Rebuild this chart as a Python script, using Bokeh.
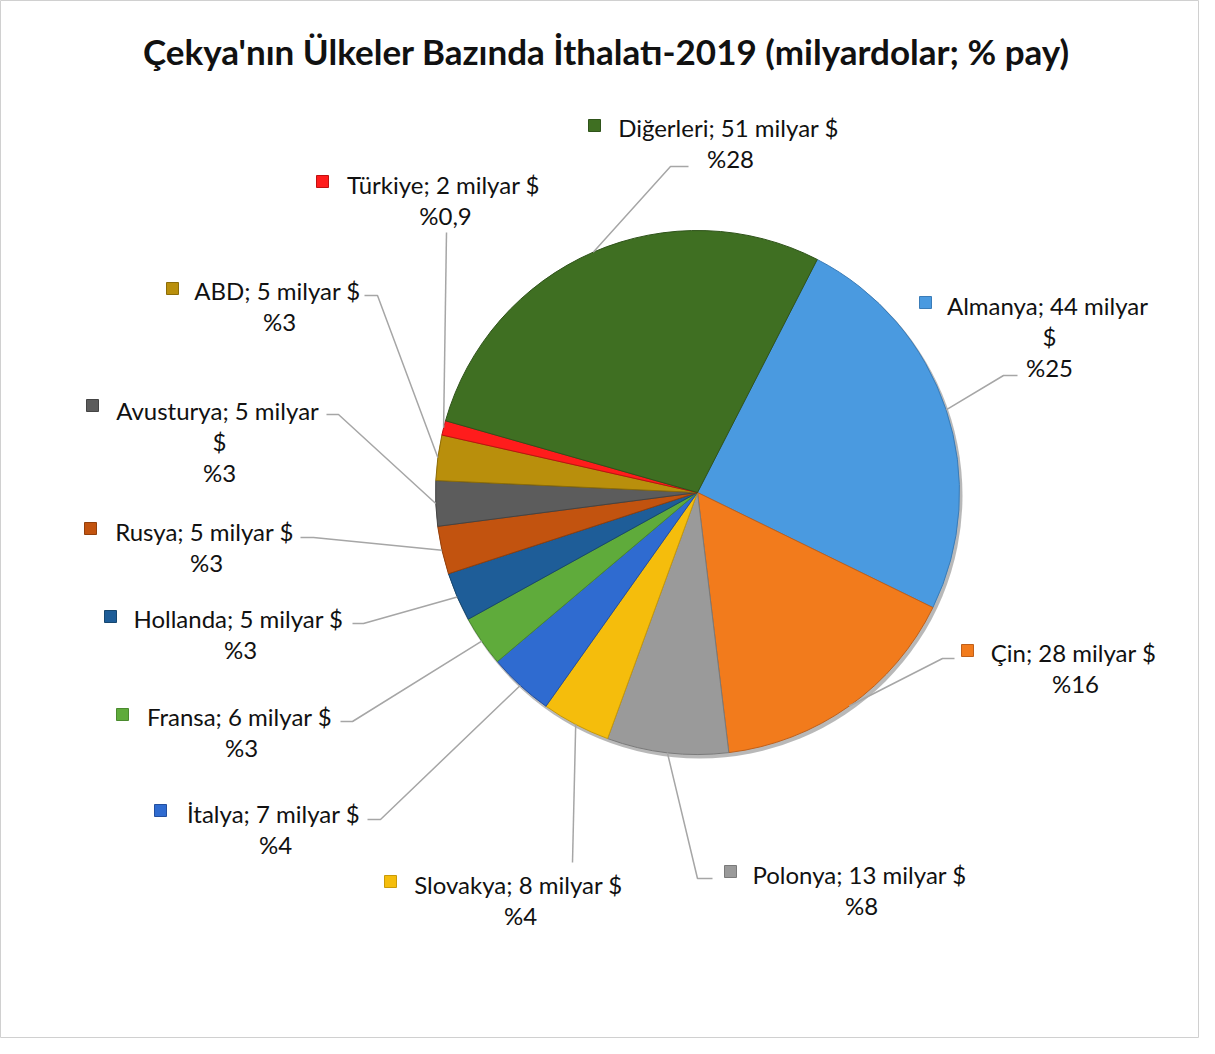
import math
from bokeh.plotting import figure
from bokeh.models import Range1d, ColumnDataSource
from bokeh.core.properties import value
from bokeh.embed import file_html
from bokeh.resources import INLINE

# ---------------- data ----------------
countries = ["Almanya", "Çin", "Polonya", "Slovakya", "İtalya", "Fransa",
             "Hollanda", "Rusya", "Avusturya", "ABD", "Türkiye", "Diğerleri"]
imports_bn = [44.2, 28.4, 13.4, 7.6, 7.2, 5.6, 5.4, 5.3, 5.0, 5.0, 1.6, 50.4]
value_labels = ["44", "28", "13", "8", "7", "6", "5", "5", "5", "5", "2", "51"]
share_labels = ["%25", "%16", "%8", "%4", "%4", "%3", "%3", "%3", "%3", "%3", "%0,9", "%28"]
title_text = "Çekya'nın Ülkeler Bazında İthalatı-2019 (milyardolar; % pay)"

# ---------------- styles / layout ----------------
colors = ["#4a9ae0", "#f27b1c", "#9a9a9a", "#f5bd0c", "#2f6bd0", "#5fab3b",
          "#1e5d98", "#c2530f", "#5c5c5c", "#b98f0c", "#ff1c1c", "#3f6f22"]
edges = ["#3a7cb8", "#c0601a", "#7a7a7a", "#c99a08", "#234f9e", "#4a8a2e",
         "#17476f", "#933f0b", "#444444", "#8c6c08", "#c01010", "#2f531a"]

W, HGT = 1199, 1038
H = 1054                     # data y = H - pixel y
CX, CY, R = 697, 492, 262    # pie centre / radius in pixels
FIRST_ANGLE = 27.2           # degrees clockwise from 12 o'clock

# label layout: marker (x, y), text centre x, first-line y, wrap "$"
lab_layout = [
    ((925, 302), 1047, 305, True),
    ((967, 650), 1073, 652, False),
    ((730, 871), 859, 874, False),
    ((390, 881), 518, 884, False),
    ((160, 810), 273, 813, False),
    ((122, 714), 239, 716, False),
    ((110, 616), 238, 618, False),
    ((90, 528), 204, 531, False),
    ((92, 405), 217, 410, True),
    ((172, 288), 277, 290, False),
    ((322, 181), 443, 184, False),
    ((594, 125), 728, 127, False),
]
LINE_H = 31
# leader line label-side points (elbow, end) in pixels
leader_pts = [
    [(1003, 375), (1017, 375)],
    [(942, 658), (954, 658)],
    [(697, 878), (712, 878)],
    [(572, 862)],
    [(380, 819), (367, 819)],
    [(352, 721), (340, 721)],
    [(363, 623), (352, 623)],
    [(313, 537), (300, 537)],
    [(338, 414), (326, 414)],
    [(377, 295), (364, 295)],
    [(446, 232)],
    [(670, 166), (688, 166)],
]

FONT = "Lato"

p = figure(width=W, height=HGT, x_range=Range1d(0, W), y_range=Range1d(H - HGT, H),
           output_backend="svg", toolbar_location=None, x_axis_type=None, y_axis_type=None,
           min_border=0, min_border_left=0, min_border_right=0, min_border_top=0, min_border_bottom=0)
p.grid.visible = False
p.outline_line_color = "#d0d0d0"
p.background_fill_color = "white"
p.border_fill_color = "white"

# angles
total = sum(imports_bn)
starts, ends, mids = [], [], []
theta = FIRST_ANGLE
for v in imports_bn:
    span = v / total * 360.0
    starts.append(math.radians(90 - theta))
    ends.append(math.radians(90 - theta - span))
    mids.append(theta + span / 2)
    theta += span

# shadow
p.circle(x=CX + 2, y=H - CY - 3, radius=R + 1, fill_color="#000000", fill_alpha=0.28, line_color=None)

src = ColumnDataSource(dict(start=starts, end=ends, color=colors, edge=edges))
p.wedge(x=CX, y=H - CY, radius=R, start_angle="start", end_angle="end", direction="clock",
        fill_color="color", line_color="edge", line_width=1, source=src)

# leader lines
xs, ys = [], []
for m, pts in zip(mids, leader_pts):
    px = CX + R * math.sin(math.radians(m))
    py = CY - R * math.cos(math.radians(m))
    line = [(px, py)] + pts
    xs.append([q[0] for q in line])
    ys.append([H - q[1] for q in line])
p.multi_line(xs=xs, ys=ys, line_color="#a6a6a6", line_width=1.5)

# labels
tx, ty, tt = [], [], []
mx, my = [], []
for name, vl, sl, lay in zip(countries, value_labels, share_labels, lab_layout):
    (mkx, mky), cx, y1, wrap = lay
    if wrap:
        lines = [f"{name}; {vl} milyar", "$", sl]
    else:
        lines = [f"{name}; {vl} milyar $", sl]
    for i, ln in enumerate(lines):
        tx.append(cx if i == 0 else cx + 2)
        ty.append(H - (y1 + i * LINE_H))
        tt.append(ln)
    mx.append(mkx)
    my.append(H - mky)

p.rect(x=mx, y=my, width=12, height=12, fill_color=colors, line_color=edges, line_width=1)
p.text(x=tx, y=ty, text=tt, text_font=value(FONT), text_font_size="24px",
       text_align="center", text_baseline="middle", text_color="#111111")

p.text(x=[606], y=[H - 50], text=[title_text], text_font=value(FONT), text_font_size="35px",
       text_font_style="bold", text_align="center", text_baseline="middle", text_color="#111111")

open("out.html", "w").write(file_html(p, INLINE))
